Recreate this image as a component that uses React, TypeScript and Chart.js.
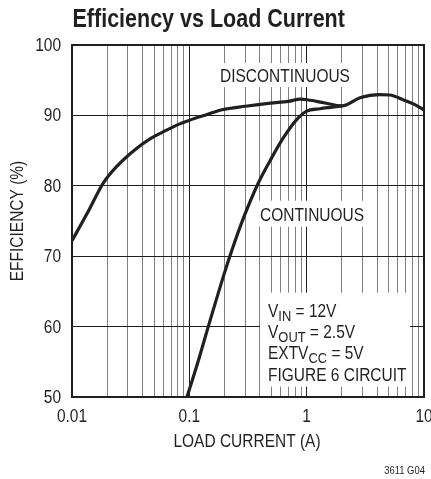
import React, { useEffect, useRef } from 'react';
import { Chart, registerables } from 'chart.js';

Chart.register(...registerables);

const FONT = "'Liberation Sans', Arial, Helvetica, sans-serif";
const INK = '#231f20';
const SX = 0.86; // horizontal condensing factor to mimic a condensed face

const TITLE = 'Efficiency vs Load Current';
const X_TITLE = 'LOAD CURRENT (A)';
const Y_TITLE = 'EFFICIENCY (%)';
const FIG_ID = '3611 G04';
const LABEL_DISC = 'DISCONTINUOUS';
const LABEL_CONT = 'CONTINUOUS';

const X_MIN = 0.01;
const X_MAX = 10;
const Y_MIN = 50;
const Y_MAX = 100;
const Y_STEP = 10;

// Discontinuous-mode efficiency curve
const discX = [0.01, 0.0137, 0.0184, 0.0247, 0.0342, 0.0445, 0.064, 0.083, 0.1, 0.14, 0.19, 0.3, 0.49, 0.7, 0.88, 1.07, 1.4, 2.0, 2.85, 4.2, 5.1, 6.7, 8.2, 10];
const discY = [72.2, 76.3, 80.35, 82.95, 85.1, 86.5, 87.9, 88.8, 89.3, 90.1, 90.8, 91.3, 91.75, 92.0, 92.3, 92.15, 91.8, 91.35, 92.5, 92.95, 92.9, 92.2, 91.6, 90.8];

// Continuous-mode efficiency curve
const contX = [0.0955, 0.12, 0.145, 0.2, 0.23, 0.289, 0.387, 0.504, 0.632, 0.822, 1.0, 1.3, 1.6, 2.0];
const contY = [50, 55.3, 60, 67.7, 70.8, 75.4, 80.4, 84.0, 86.8, 89.4, 90.6, 90.95, 91.15, 91.35];

// Conditions box lines: [main, subscript, rest]
const condLines: [string, string, string][] = [
  ['V', 'IN', ' = 12V'],
  ['V', 'OUT', ' = 2.5V'],
  ['EXTV', 'CC', ' = 5V'],
  ['FIGURE 6 CIRCUIT', '', ''],
];

const xTickValues: number[] = [];
for (let k = -2; k <= 1; k++) {
  for (let m = 1; m <= 9; m++) {
    const v = parseFloat((m * Math.pow(10, k)).toPrecision(3));
    if (v >= X_MIN && v <= X_MAX) xTickValues.push(v);
  }
}
const isDecade = (v: number) => {
  const l = Math.log10(v);
  return Math.abs(l - Math.round(l)) < 1e-9;
};

function font(size: number, bold = false) {
  return `${bold ? 'bold ' : ''}${size}px ${FONT}`;
}
function textW(ctx: CanvasRenderingContext2D, t: string, size: number, bold = false) {
  ctx.save();
  ctx.font = font(size, bold);
  const w = ctx.measureText(t).width * SX;
  ctx.restore();
  return w;
}
function narrow(
  ctx: CanvasRenderingContext2D,
  t: string,
  x: number,
  y: number,
  size: number,
  align: CanvasTextAlign = 'left',
  bold = false,
  rot = 0,
) {
  ctx.save();
  ctx.translate(x, y);
  if (rot) ctx.rotate(rot);
  ctx.scale(SX, 1);
  ctx.font = font(size, bold);
  ctx.textAlign = align;
  ctx.textBaseline = 'alphabetic';
  ctx.fillStyle = INK;
  ctx.fillText(t, 0, 0);
  ctx.restore();
}

const TXT = 18;
const SUB = 15;

const annotPlugin = {
  id: 'annot',
  beforeDatasetsDraw(chart: any) {
    const { ctx, scales } = chart;
    const x = scales.x;
    const y = scales.y;
    ctx.save();
    ctx.fillStyle = '#fff';
    // discontinuous label box
    let cx = x.getPixelForValue(0.6535);
    let by = y.getPixelForValue(94.74);
    let w = textW(ctx, LABEL_DISC, TXT);
    ctx.fillRect(cx - w / 2 - 2, by - 19, w + 4, 24);
    // continuous label box
    cx = x.getPixelForValue(1.111);
    by = y.getPixelForValue(75.04);
    w = textW(ctx, LABEL_CONT, TXT);
    ctx.fillRect(cx - w / 2 - 2, by - 20, w + 4, 26);
    // conditions box
    const lx = x.getPixelForValue(0.4684);
    const ly = y.getPixelForValue(61.41);
    ctx.fillRect(lx - 8, ly - 24, 150, 94);
    ctx.restore();
  },
  afterDatasetsDraw(chart: any) {
    const { ctx, scales, chartArea: a } = chart;
    const x = scales.x;
    const y = scales.y;

    narrow(ctx, LABEL_DISC, x.getPixelForValue(0.6535), y.getPixelForValue(94.74), TXT, 'center');
    narrow(ctx, LABEL_CONT, x.getPixelForValue(1.111), y.getPixelForValue(75.04), TXT, 'center');

    // conditions
    const lx = x.getPixelForValue(0.4684);
    let ly = y.getPixelForValue(61.41);
    for (const [main, sub, rest] of condLines) {
      let px = lx;
      narrow(ctx, main, px, ly, TXT);
      px += textW(ctx, main, TXT);
      if (sub) {
        narrow(ctx, sub, px, ly + 4, SUB);
        px += textW(ctx, sub, SUB);
      }
      if (rest) narrow(ctx, rest, px, ly, TXT);
      ly += 21.3;
    }

    // frame
    ctx.save();
    ctx.strokeStyle = INK;
    ctx.lineWidth = 2;
    ctx.strokeRect(a.left, a.top, a.right - a.left, a.bottom - a.top);
    ctx.restore();
  },
  afterDraw(chart: any) {
    const { ctx, chartArea: a, scales } = chart;
    const x = scales.x;
    const y = scales.y;
    // title
    narrow(ctx, TITLE, a.left + 0.5, 27, 25, 'left', true);
    // y tick labels
    for (const t of y.ticks) {
      narrow(ctx, String(t.value), a.left - 11, y.getPixelForValue(t.value) + 6, TXT, 'right');
    }
    // x tick labels (decades only)
    for (const t of x.ticks) {
      if (!isDecade(t.value)) continue;
      narrow(ctx, String(t.value), x.getPixelForValue(t.value), a.bottom + 25, TXT, 'center');
    }
    // axis titles
    narrow(ctx, X_TITLE, (a.left + a.right) / 2 - 1, a.bottom + 50, TXT, 'center');
    narrow(ctx, Y_TITLE, 23, (a.top + a.bottom) / 2, TXT, 'center', false, -Math.PI / 2);
    // figure id
    narrow(ctx, FIG_ID, a.right + 1, 474, 11, 'right');
  },
};

export default function App() {
  const ref = useRef<HTMLCanvasElement | null>(null);

  useEffect(() => {
    document.body.style.margin = '0';
    const canvas = ref.current;
    if (!canvas) return;
    const chart = new Chart(canvas, {
      type: 'line',
      data: {
        datasets: [
          {
            label: 'Discontinuous',
            data: discX.map((v, i) => ({ x: v, y: discY[i] })),
            borderColor: INK,
            borderWidth: 3.2,
            pointRadius: 0,
            fill: false,
            cubicInterpolationMode: 'monotone',
          },
          {
            label: 'Continuous',
            data: contX.map((v, i) => ({ x: v, y: contY[i] })),
            borderColor: INK,
            borderWidth: 3.2,
            pointRadius: 0,
            fill: false,
            cubicInterpolationMode: 'monotone',
          },
        ],
      },
      options: {
        animation: false,
        responsive: false,
        devicePixelRatio: 1,
        layout: { padding: { top: 45, right: 7, left: 0, bottom: 0 } },
        plugins: {
          legend: { display: false },
          title: { display: false },
          tooltip: { enabled: false },
        },
        scales: {
          x: {
            type: 'logarithmic',
            min: X_MIN,
            max: X_MAX,
            border: { display: false },
            grid: {
              drawTicks: false,
              lineWidth: 1,
              color: (c: any) => {
                const v = c.tick ? c.tick.value : 0;
                return isDecade(v) ? '#231f20' : '#808080';
              },
            },
            ticks: { display: false, autoSkip: false, maxRotation: 0 },
            afterBuildTicks: (s: any) => {
              s.ticks = xTickValues.map((v) => ({ value: v, major: isDecade(v) }));
            },
            afterFit: (s: any) => {
              s.height = 82;
              s.paddingLeft = 0;
              s.paddingRight = 0;
            },
          },
          y: {
            type: 'linear',
            min: Y_MIN,
            max: Y_MAX,
            border: { display: false },
            grid: { drawTicks: false, color: '#231f20', lineWidth: 1 },
            ticks: { display: false, stepSize: Y_STEP },
            afterFit: (s: any) => {
              s.width = 72;
              s.paddingTop = 0;
              s.paddingBottom = 0;
            },
          },
        },
      },
      plugins: [annotPlugin],
    } as any);
    return () => chart.destroy();
  }, []);

  return (
    <div style={{ width: 431, height: 479, background: '#fff' }}>
      <canvas ref={ref} width={431} height={479} style={{ display: 'block', width: 431, height: 479 }} />
    </div>
  );
}
